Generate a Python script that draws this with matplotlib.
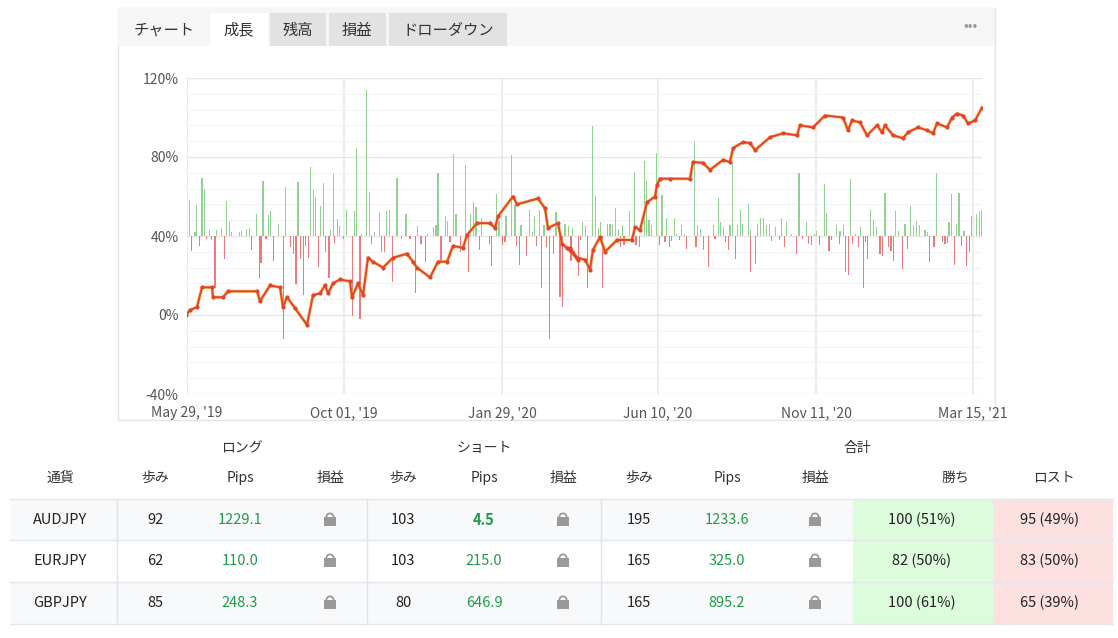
import numpy as np
import matplotlib
matplotlib.use("Agg")
import matplotlib.pyplot as plt
from matplotlib.patches import Rectangle, Wedge

plt.rcParams['font.family'] = ['Noto Sans CJK JP', 'DejaVu Sans']

# ---------------- data ----------------
x_tick_pos = [0, 157, 315, 471, 629, 786]
x_tick_labels = ["May 29, '19", "Oct 01, '19", "Jan 29, '20", "Jun 10, '20", "Nov 11, '20", "Mar 15, '21"]
y_ticks = [-40, 0, 40, 80, 120]

# growth line (x in axis position units, y in %)
line_x = [-1, 3, 10, 15, 25, 26, 36, 41, 70, 73, 83, 93, 96, 100, 108, 120, 126, 133, 138, 141, 146, 153,
          163, 165, 171, 176, 181, 186, 196, 206, 220, 226, 230, 243, 251, 260, 266, 276, 280, 290, 303,
          308, 311, 326, 330, 351, 358, 361, 371, 375, 380, 391, 383, 390, 398, 403, 406, 413, 418, 430,
          445, 448, 453, 460, 468, 470, 473, 483, 503, 506, 516, 523, 536, 543, 546, 556, 563, 568, 583,
          596, 610, 613, 626, 638, 656, 661, 665, 673, 680, 690, 695, 698, 706, 716, 721, 731, 740, 746,
          750, 760, 765, 770, 776, 781, 788, 795]
line_y = [0, 2.5, 4, 14, 14, 9, 9, 12, 12, 7, 15, 14, 4, 9, 3.5, -5, 10, 11, 15, 11, 16, 18, 17, 9, 16, 10,
          29, 27, 24, 29, 31, 27, 24, 19, 27, 27, 35, 34, 40.5, 46.5, 46.5, 44, 50, 60, 56, 59, 54, 44,
          46.5, 36, 34, 28, 34, 29, 28, 23, 33, 39.5, 32, 38, 38, 44.5, 43, 57, 60, 66, 69, 69, 69, 77.5,
          77, 73.5, 78.5, 77.5, 84.5, 87.5, 87, 83.5, 90, 92, 91, 96, 95, 101, 100, 93.5, 98.5, 97.5, 91,
          96, 92.5, 96, 91, 89.5, 92.5, 95, 93.5, 92, 97, 95, 100, 102, 101, 97, 98.5, 105]

# daily result bars, first half (read positions / heights above or below 40 % baseline)
bars1_pos = [28, 45, 50, 66, 73, 88, 110, 125, 140, 148, 155, 178, 185, 200, 208, 230, 249, 265, 272, 295,
             317, 354, 392, 400, 407, 422, 430, 452, 460, 472, 478, 500, 523, 530, 545, 560, 568, 583, 598,
             620, 628, 651, 678, 713, 743, 760, 768, 774, 797, 803, 820, 828, 857, 872, 880, 888, 905, 950,
             957, 978, 995, 1005, 1023, 1048, 1057, 1063, 1078, 1092, 1128, 1155, 1165, 1178,
             35, 58, 80, 95, 105, 133, 215, 238, 243, 258, 280, 310, 332, 340, 348, 362, 370, 377, 385, 415,
             437, 447, 463, 490, 517, 540, 575, 605, 613, 637, 665, 690, 707, 723, 737, 783, 810, 842, 865,
             898, 928, 935, 968, 975, 1010, 1018, 1040, 1070, 1085, 1100, 1108, 1120, 1140, 1148, 1173, 1195]
bars1_val = [18, 2, 15.5, 29.5, 24, 3, 3, 4, 17.5, 7, 2, 2, 2.5, 3.5, 4, 11, 28, 10.5, 12.5, 6, 25, 27.5,
             35, 23.5, 19.5, 15, 27, 3, 31.5, 8.5, 5, 13, 12.5, 44.5, 1, 74, 22.5, 2, 12, 12.5, 13, 29.5, 11,
             5, 1, 4.5, 5.5, 32, 10, 7.5, 41.5, 11, 36, 11, 17, 14.5, 9, 21.5, 7.5, 10, 41, 15.5, 5.5, 13, 2,
             10, 13, 5.5, 12, 6, 5, 4,
             -7.5, -5, -1.5, -2, -26.5, -11.5, -7, -21.5, -13.5, -1.5, -12.5, -52, -5.5, -9, -24.5, -11.5,
             -30, -5, -11, -15.5, -8, -21.5, -3.5, -1.5, -40.5, -42, -4, -8, -8, -23.5, -1.5, -1.5, -29, -4,
             -13, -12.5, -3, -8, -18, -7, -4, -15, -4.5, -3, -5, -14.5, -10, -5, -26.5, -5.5, -52, -9, -31,
             -36, -12.5, -20]
# second half
bars2_pos = [38, 47, 68, 76, 85, 92, 113, 120, 127, 137, 145, 158, 178, 193, 223, 230, 237, 245, 260, 276,
             290, 313, 320, 335, 343, 373, 383, 392, 430, 445, 452, 460, 480, 488, 503, 512, 518, 535, 542,
             563, 572, 580, 590, 598, 617, 635, 650, 665, 687, 710, 733, 740, 763, 770, 800, 810, 820, 842,
             857, 872, 902, 910, 920, 945, 977, 985, 1005, 1022, 1030, 1040, 1048, 1065, 1072, 1100, 1137,
             1145, 1160, 1167, 1182, 1205, 1220, 1228, 1236,
             32, 53, 98, 152, 162, 185, 198, 208, 268, 285, 298, 305, 328, 350, 378, 400, 415, 435, 466, 475,
             497, 542, 557, 605, 628, 643, 680, 697, 715, 725, 748, 777, 785, 808, 827, 835, 848, 865, 880,
             887, 893, 930, 938, 955, 963, 970, 998, 1013, 1078, 1092, 1117, 1125, 1133, 1153, 1175, 1190,
             1198]
bars2_val = [7, 5, 55.5, 20.5, 4, 7, 6, 6, 5.5, 14, 3.5, 5.5, 12.5, 32.5, 38, 28, 8, 5.5, 42, 21, 9, 9, 1,
             5.5, 1, 48, 5.5, 3.5, 5.5, 19, 7, 4.5, 5.5, 37, 5.5, 13, 6, 16, 3, 6, 9, 9, 5.5, 6, 4.5, 9, 7, 1,
             32, 7, 1, 2.5, 26.5, 11.5, 5.5, 2.5, 5.5, 29, 1, 4.5, 13, 8, 4.5, 22, 12.5, 2.5, 6, 15, 5.5, 7.5,
             5.5, 3, 2, 32, 7, 21.5, 6, 22, 2.5, 10, 11, 12, 13,
             -2, -26.5, -26.5, -5.5, -4.5, -3, -4.5, -5.5, -4.5, -3, -5.5, -2.5, -2, -6.5, -5.5, -7, -15.5,
             -1.5, -3, -7, -11.5, -18, -14, -2.5, -2, -5.5, -9, -1.5, -4, -4.5, -4.5, -7.5, -2, -4, -18,
             -19.5, -4, -5.5, -26.5, -3, -11.5, -9, -10, -5.5, -7.5, -12.5, -16.5, -6.5, -13, -5.5, -3, -4,
             -3.5, -14.5, -5, -15, -8]
bar_base = 40

# table
currencies = ["AUDJPY", "EURJPY", "GBPJPY"]
long_trades = [92, 62, 85]
long_pips = ["1229.1", "110.0", "248.3"]
short_trades = [103, 103, 80]
short_pips = ["4.5", "215.0", "646.9"]
total_trades = [195, 165, 165]
total_pips = ["1233.6", "325.0", "895.2"]
wins = ["100 (51%)", "82 (50%)", "100 (61%)"]
losses = ["95 (49%)", "83 (50%)", "65 (39%)"]

# ---------------- figure ----------------
W, H = 1118, 638
fig = plt.figure(figsize=(W / 100, H / 100), dpi=100)
bg = fig.add_axes([0, 0, 1, 1])
bg.set_xlim(0, W)
bg.set_ylim(H, 0)
bg.axis('off')

# chart panel
bg.add_patch(Rectangle((118, 8), 877, 412, fc='white', ec='#e4e4e4', lw=1))
bg.add_patch(Rectangle((118, 8), 877, 38, fc='#f6f6f6', ec='none'))
bg.add_patch(Rectangle((210, 13), 58, 34, fc='white', ec='none'))
for (x0, w) in [(270, 56), (329, 57), (389, 118)]:
    bg.add_patch(Rectangle((x0, 13), w, 33, fc='#e2e2e2', ec='none'))
tab_font = dict(fontsize=11, color='#333333', va='center', ha='center')
for label, cx in [("チャート", 164), ("成長", 239), ("残高", 298), ("損益", 357), ("ドローダウン", 448)]:
    bg.text(cx, 30, label, **tab_font)
bg.text(970, 26, "•••", fontsize=10, color='#999999', ha='center', va='center')

# table
row_tops = [499, 540, 582]
row_h = 42
for i, t in enumerate(row_tops):
    bg.add_patch(Rectangle((10, t), 1103, row_h, fc='#f8f9fb' if i != 1 else 'white', ec='none'))
    bg.add_patch(Rectangle((853, t), 140, row_h, fc='#ddfcdc', ec='none'))
    bg.add_patch(Rectangle((993, t), 120, row_h, fc='#fde1e1', ec='none'))
for y in row_tops + [624]:
    bg.plot([10, 1113], [y, y], color='#e3e6ea', lw=1)
for x in [117, 367, 601]:
    bg.plot([x, x], [499, 624], color='#e0e3e7', lw=1)

hdr = dict(fontsize=10, color='#333333', ha='center', va='center')
for label, cx in [("ロング", 242), ("ショート", 484), ("合計", 857)]:
    bg.text(cx, 448, label, **hdr)
cols = [60, 155, 240, 330, 403, 484, 563, 639, 727, 815, 955, 1054]
for label, cx in zip(["通貨", "歩み", "Pips", "損益", "歩み", "Pips", "損益", "歩み", "Pips", "損益", "勝ち", "ロスト"], cols):
    bg.text(cx, 478, label, **hdr)
win_cx, loss_cx = 922, 1050

def lock(cx, cy):
    bg.add_patch(Rectangle((cx - 6, cy - 3), 12, 9, fc='#999999', ec='none'))
    bg.add_patch(Wedge((cx, cy - 3), 4.5, 180, 360, width=1.8, fc='#999999', ec='none'))

green = '#1e9c46'
cell = dict(fontsize=10.5, ha='center', va='center')
for i in range(3):
    cy = row_tops[i] + row_h / 2
    bg.text(cols[0], cy, currencies[i], color='#222222', **cell)
    bg.text(cols[1], cy, str(long_trades[i]), color='#222222', **cell)
    bg.text(cols[2], cy, long_pips[i], color=green, **cell)
    lock(cols[3], cy)
    bg.text(cols[4], cy, str(short_trades[i]), color='#222222', **cell)
    bg.text(cols[5], cy, short_pips[i], color=green, fontweight='bold' if i == 0 else 'normal', **cell)
    lock(cols[6], cy)
    bg.text(cols[7], cy, str(total_trades[i]), color='#222222', **cell)
    bg.text(cols[8], cy, total_pips[i], color=green, **cell)
    lock(cols[9], cy)
    bg.text(win_cx, cy, wins[i], color='#222222', **cell)
    bg.text(loss_cx, cy, losses[i], color='#222222', **cell)

# chart axes
ax = fig.add_axes([187 / W, 1 - 394 / H, 795 / W, 316 / H])
ax.set_xlim(0, 795)
ax.set_ylim(-40, 120)
ax.set_facecolor('none')
for s in ax.spines.values():
    s.set_visible(False)
ax.set_yticks(y_ticks)
ax.set_yticklabels([f"{v}%" for v in y_ticks])
ax.set_yticks(np.arange(-40, 121, 8), minor=True)
ax.set_xticks(x_tick_pos)
ax.set_xticklabels(x_tick_labels)
ax.tick_params(axis='both', which='both', length=0, colors='#555555', labelsize=10)
ax.tick_params(axis='y', pad=6)
ax.tick_params(axis='x', pad=9)
ax.grid(axis='y', which='minor', color='#f3f3f3', lw=0.8)
ax.grid(axis='y', which='major', color='#e6e6e6', lw=1)
ax.grid(axis='x', which='major', color='#e9e9e9', lw=1.2)
ax.set_axisbelow(True)

p1 = np.array(bars1_pos) / 3 - 7
p2 = np.array(bars2_pos) / 3 + 383
pos = np.concatenate([p1, p2])
val = np.array(bars1_val + bars2_val, dtype=float)
cols_b = np.where(val >= 0, '#92d18f', '#ea7b7b')
ax.bar(pos, val, bottom=bar_base, width=1.1, color=cols_b, linewidth=0, zorder=2)

ax.plot(line_x, line_y, color='#f6b132', lw=2.4, zorder=3, alpha=0.7)
ax.plot(line_x, line_y, color='#e2432a', lw=1.4, marker='o', ms=2, zorder=4)

fig.savefig('out.png', dpi=100)
